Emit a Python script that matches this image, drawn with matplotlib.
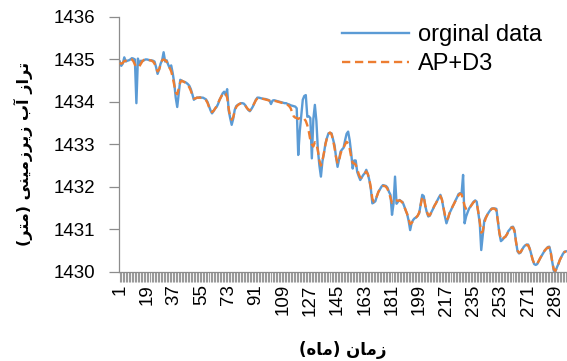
import numpy as np
import matplotlib.pyplot as plt

# monthly groundwater level (m): observed and AP+D3 model
original = [
    1434.95, 1434.85, 1434.90, 1435.05, 1434.95, 1434.97, 1434.98, 1435.00, 1435.03, 1435.02,
    1435.00, 1433.97, 1435.02, 1434.88, 1434.97, 1434.96, 1434.98, 1435.00, 1435.00, 1434.99,
    1434.98, 1434.98, 1434.97, 1434.95, 1434.82, 1434.66, 1434.76, 1434.90, 1434.98, 1435.17,
    1434.95, 1434.98, 1434.88, 1434.80, 1434.86, 1434.68, 1434.45, 1434.10, 1433.88, 1434.20,
    1434.52, 1434.50, 1434.48, 1434.47, 1434.45, 1434.42, 1434.38, 1434.30, 1434.18, 1434.05,
    1434.08, 1434.10, 1434.10, 1434.11, 1434.10, 1434.10, 1434.08, 1434.06, 1434.00, 1433.90,
    1433.80, 1433.73, 1433.78, 1433.84, 1433.88, 1433.95, 1434.05, 1434.12, 1434.20, 1434.24,
    1434.16, 1434.30, 1433.80, 1433.62, 1433.46, 1433.60, 1433.81, 1433.90, 1433.93, 1433.95,
    1433.97, 1433.97, 1433.96, 1433.92, 1433.86, 1433.81, 1433.78, 1433.83, 1433.89, 1433.97,
    1434.05, 1434.10, 1434.10, 1434.09, 1434.08, 1434.07, 1434.07, 1434.06, 1434.05, 1434.03,
    1433.95, 1434.03, 1434.04, 1434.03, 1434.02, 1434.01, 1434.00, 1433.99, 1433.98, 1433.97,
    1433.97, 1433.95, 1433.94, 1433.92, 1433.91, 1433.90, 1433.89, 1433.85, 1432.75, 1433.30,
    1433.67, 1434.05, 1434.14, 1434.16, 1433.65, 1433.66, 1433.62, 1432.67, 1433.60, 1433.93,
    1433.55, 1432.87, 1432.50, 1432.24, 1432.60, 1432.79, 1433.02, 1433.15, 1433.26, 1433.27,
    1433.26, 1433.12, 1432.98, 1432.70, 1432.47, 1432.65, 1432.83, 1432.88, 1432.92, 1433.10,
    1433.25, 1433.30, 1433.10, 1432.80, 1432.43, 1432.62, 1432.62, 1432.35, 1432.25, 1432.16,
    1432.22, 1432.28, 1432.32, 1432.40, 1432.30, 1432.16, 1431.95, 1431.61, 1431.63, 1431.66,
    1431.78, 1431.88, 1431.94, 1432.00, 1432.04, 1432.03, 1432.02, 1431.98, 1431.88, 1431.81,
    1431.34, 1431.60, 1432.24, 1431.60, 1431.65, 1431.69, 1431.66, 1431.64, 1431.55, 1431.45,
    1431.36, 1431.20, 1430.98, 1431.15, 1431.22, 1431.26, 1431.28, 1431.32, 1431.38, 1431.60,
    1431.81, 1431.78, 1431.55, 1431.40, 1431.30, 1431.32, 1431.40, 1431.47, 1431.55, 1431.61,
    1431.68, 1431.75, 1431.81, 1431.70, 1431.50, 1431.30, 1431.14, 1431.25, 1431.38, 1431.45,
    1431.53, 1431.60, 1431.68, 1431.75, 1431.83, 1431.85, 1431.84, 1432.28, 1431.14, 1431.30,
    1431.40, 1431.49, 1431.54, 1431.60, 1431.65, 1431.68, 1431.65, 1431.40, 1431.15, 1430.51,
    1430.85, 1431.20, 1431.28, 1431.34, 1431.40, 1431.45, 1431.49, 1431.49, 1431.49, 1431.48,
    1431.20, 1430.90, 1430.72, 1430.75, 1430.80, 1430.82, 1430.88, 1430.96, 1431.00, 1431.05,
    1431.06, 1430.98, 1430.70, 1430.48, 1430.43, 1430.45, 1430.52, 1430.58, 1430.62, 1430.64,
    1430.64, 1430.55, 1430.42, 1430.28, 1430.18, 1430.16, 1430.18, 1430.25, 1430.32, 1430.38,
    1430.44, 1430.50, 1430.54, 1430.58, 1430.59, 1430.45, 1430.22, 1430.02, 1430.00, 1430.10,
    1430.18, 1430.28, 1430.35, 1430.42, 1430.47, 1430.48,
]

ap_d3 = [
    1434.92, 1434.90, 1434.92, 1434.96, 1434.97, 1434.98, 1435.00, 1435.01, 1435.00, 1434.96,
    1434.88, 1434.82, 1434.82, 1434.84, 1434.90, 1434.96, 1434.99, 1435.00, 1435.00, 1434.99,
    1434.98, 1434.97, 1434.95, 1434.90, 1434.80, 1434.72, 1434.76, 1434.88, 1434.98, 1435.00,
    1434.98, 1434.95, 1434.88, 1434.80, 1434.72, 1434.58, 1434.40, 1434.22, 1434.18, 1434.32,
    1434.46, 1434.50, 1434.48, 1434.46, 1434.44, 1434.40, 1434.34, 1434.26, 1434.16, 1434.08,
    1434.08, 1434.10, 1434.10, 1434.10, 1434.10, 1434.09, 1434.07, 1434.04, 1433.98, 1433.88,
    1433.80, 1433.76, 1433.79, 1433.84, 1433.90, 1433.97, 1434.05, 1434.12, 1434.18, 1434.22,
    1434.20, 1434.10, 1433.85, 1433.65, 1433.58, 1433.64, 1433.78, 1433.88, 1433.92, 1433.95,
    1433.96, 1433.96, 1433.95, 1433.91, 1433.86, 1433.82, 1433.80, 1433.84, 1433.90, 1433.97,
    1434.04, 1434.08, 1434.10, 1434.09, 1434.08, 1434.07, 1434.06, 1434.05, 1434.04, 1434.03,
    1434.01, 1434.01, 1434.02, 1434.02, 1434.01, 1434.00, 1433.99, 1433.98, 1433.97, 1433.96,
    1433.95, 1433.93, 1433.90, 1433.85, 1433.75, 1433.66, 1433.63, 1433.62, 1433.60, 1433.62,
    1433.63, 1433.62, 1433.60, 1433.55, 1433.45, 1433.30, 1433.10, 1433.00, 1432.95, 1433.05,
    1433.02, 1432.85, 1432.62, 1432.50, 1432.62, 1432.80, 1433.00, 1433.15, 1433.24, 1433.28,
    1433.24, 1433.10, 1432.92, 1432.70, 1432.55, 1432.62, 1432.78, 1432.88, 1432.92, 1433.00,
    1433.06, 1433.02, 1432.90, 1432.70, 1432.56, 1432.55, 1432.52, 1432.42, 1432.30, 1432.22,
    1432.22, 1432.28, 1432.32, 1432.36, 1432.30, 1432.18, 1431.98, 1431.72, 1431.65, 1431.68,
    1431.78, 1431.88, 1431.94, 1431.99, 1432.02, 1432.02, 1432.00, 1431.95, 1431.86, 1431.74,
    1431.62, 1431.64, 1431.68, 1431.68, 1431.67, 1431.68, 1431.66, 1431.62, 1431.54, 1431.45,
    1431.36, 1431.24, 1431.12, 1431.15, 1431.20, 1431.25, 1431.28, 1431.32, 1431.40, 1431.58,
    1431.76, 1431.76, 1431.56, 1431.42, 1431.33, 1431.33, 1431.40, 1431.47, 1431.55, 1431.61,
    1431.68, 1431.74, 1431.78, 1431.70, 1431.52, 1431.34, 1431.22, 1431.26, 1431.37, 1431.45,
    1431.53, 1431.60, 1431.67, 1431.74, 1431.80, 1431.84, 1431.82, 1431.70, 1431.55, 1431.48,
    1431.46, 1431.50, 1431.54, 1431.59, 1431.64, 1431.66, 1431.62, 1431.42, 1431.18, 1430.92,
    1430.95, 1431.15, 1431.26, 1431.34, 1431.40, 1431.45, 1431.48, 1431.49, 1431.48, 1431.44,
    1431.20, 1430.92, 1430.76, 1430.76, 1430.80, 1430.83, 1430.88, 1430.95, 1431.00, 1431.04,
    1431.04, 1430.95, 1430.70, 1430.50, 1430.45, 1430.46, 1430.52, 1430.58, 1430.62, 1430.63,
    1430.62, 1430.54, 1430.42, 1430.28, 1430.20, 1430.17, 1430.19, 1430.25, 1430.32, 1430.38,
    1430.44, 1430.50, 1430.54, 1430.57, 1430.57, 1430.44, 1430.22, 1430.05, 1430.02, 1430.10,
    1430.18, 1430.28, 1430.35, 1430.42, 1430.46, 1430.48,
]

months = np.arange(1, len(original) + 1)
label_step = 18
y_ticks = [1430, 1431, 1432, 1433, 1434, 1435, 1436]
series_labels = ['orginal data', 'AP+D3']
x_title = 'زمان (ماه)'
y_title = 'تراز آب زیرزمینی (متر)'

# Arabic presentation forms: isolated, final, initial, medial
# (None for initial/medial means the letter never joins to the next one)
FORMS = {
    'ا': ('\uFE8D', '\uFE8E', None, None),
    'آ': ('\uFE81', '\uFE82', None, None),
    'ر': ('\uFEAD', '\uFEAE', None, None),
    'ز': ('\uFEAF', '\uFEB0', None, None),
    'ب': ('\uFE8F', '\uFE90', '\uFE91', '\uFE92'),
    'ت': ('\uFE95', '\uFE96', '\uFE97', '\uFE98'),
    'م': ('\uFEE1', '\uFEE2', '\uFEE3', '\uFEE4'),
    'ن': ('\uFEE5', '\uFEE6', '\uFEE7', '\uFEE8'),
    'ه': ('\uFEE9', '\uFEEA', '\uFEEB', '\uFEEC'),
    'ی': ('\uFBFC', '\uFBFD', '\uFBFE', '\uFBFF'),
}


def shape_rtl(text):
    # matplotlib has no text shaping, so pick the joined glyphs by hand
    out = []
    for i, ch in enumerate(text):
        if ch not in FORMS:
            out.append(ch)
            continue
        prev = text[i - 1] if i > 0 else ''
        nxt = text[i + 1] if i + 1 < len(text) else ''
        iso, fin, ini, med = FORMS[ch]
        joins_prev = prev in FORMS and FORMS[prev][2] is not None
        joins_next = ini is not None and nxt in FORMS
        if joins_prev and joins_next:
            out.append(med)
        elif joins_prev:
            out.append(fin)
        elif joins_next:
            out.append(ini)
        else:
            out.append(iso)
    mirror = {'(': ')', ')': '('}
    return ''.join(mirror.get(c, c) for c in reversed(out))


plt.rcParams['font.family'] = ['Liberation Sans', 'DejaVu Sans']

W, H = 567, 361
fig = plt.figure(figsize=(W / 100, H / 100), dpi=100)
ax = fig.add_axes([119 / W, 1 - 271.7 / H, 448 / W, (271.7 - 17) / H])

ax.plot(months, original, color='#5B9BD5', lw=1.7, label=series_labels[0], zorder=2)
ax.plot(months, ap_d3, color='#ED7D31', lw=1.7, dashes=(3.5, 2.0),
        label=series_labels[1], zorder=3)

ax.set_xlim(0.5, len(original) + 0.7)
ax.set_ylim(y_ticks[0], y_ticks[-1])
ax.set_yticks(y_ticks)
ax.set_yticklabels([str(v) for v in y_ticks])
ax.set_xticks(months)
ax.set_xticklabels([str(m) if (m - 1) % label_step == 0 else '' for m in months],
                   rotation=90)

for side in ('top', 'right'):
    ax.spines[side].set_visible(False)
for side in ('left', 'bottom'):
    ax.spines[side].set_color('#8C8C8C')
    ax.spines[side].set_linewidth(0.9)

ax.tick_params(axis='x', length=7, width=0.8, color='#9A9A9A', pad=2, labelsize=13.5)
ax.tick_params(axis='y', length=7, width=0.9, color='#8C8C8C', pad=10, labelsize=13.5)

ax.legend(loc='upper left', bbox_to_anchor=(342 / W, 1 - 24 / H),
          bbox_transform=fig.transFigure, frameon=False, fontsize=17,
          handlelength=2.85, handletextpad=0.35, labelspacing=0.3,
          borderpad=0, borderaxespad=0)

fig.text(23 / W, 1 - 154 / H, shape_rtl(y_title), rotation=90, ha='center', va='center',
         fontsize=11.5, fontweight='bold', family='DejaVu Sans')
fig.text(343 / W, 1 - 350 / H, shape_rtl(x_title), ha='center', va='center',
         fontsize=12, fontweight='bold', family='DejaVu Sans')

fig.savefig('out.png', dpi=100)
